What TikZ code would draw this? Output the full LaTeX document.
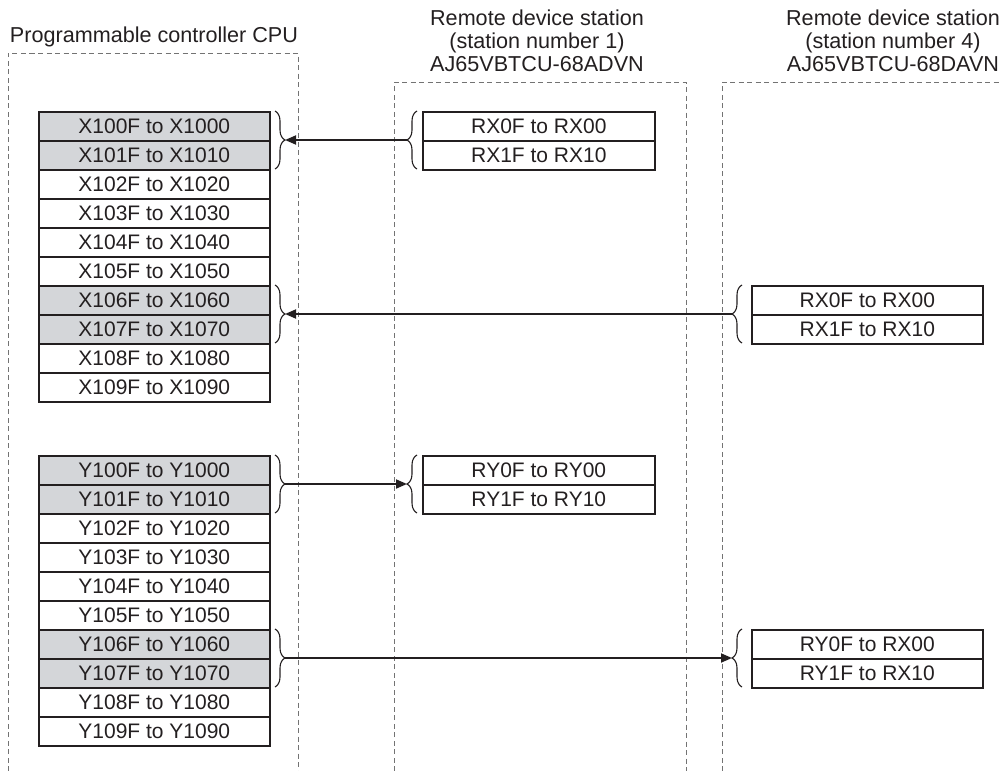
\documentclass[tikz,border=0pt]{standalone}
\usepackage{fontspec}
\setmainfont{Liberation Sans}
\usetikzlibrary{decorations.pathreplacing,arrows.meta}
\definecolor{gray1}{RGB}{212,214,217}
\definecolor{ink}{RGB}{35,31,32}
\begin{document}
\begin{tikzpicture}[x=1pt,y=-1pt,
  frame/.style={draw=black!55,dash pattern=on 5pt off 3.5pt,line width=0.8pt},
  cell/.style={draw=ink,line width=1.6pt,minimum width=231pt,minimum height=29pt,inner sep=0pt,anchor=north west,font=\fontsize{21}{24}\selectfont,text=ink},
  hi/.style={cell,fill=gray1},
  brc/.style={draw=ink,line width=1.1pt,decorate,decoration={brace,amplitude=10pt}},
  arr/.style={draw=ink,line width=1.8pt,-{Triangle[length=11pt,width=9pt]}},
  hdr/.style={font=\fontsize{21.6}{23}\selectfont,align=center,text=ink}]
\useasboundingbox (0,0) rectangle (1002,771);
% frames
\draw[frame] (8,771) -- (8,53) -- (298,53) -- (298,771);
\draw[frame] (394,771) -- (394,82) -- (686,82) -- (686,771);
\draw[frame] (722,771) -- (722,82) -- (1002,82);
% headers
\node[hdr] (hcpu) at (154,37) {Programmable controller CPU};
\node[hdr] (hs1) at (537,41) {Remote device station\\(station number 1)\\AJ65VBTCU-68ADVN};
\node[hdr] (hs4) at (893,41) {Remote device station\\(station number 4)\\AJ65VBTCU-68DAVN};
% CPU X rows
\foreach \i/\s in {0/hi,1/hi,2/cell,3/cell,4/cell,5/cell,6/hi,7/hi,8/cell,9/cell}
  \node[\s] (x\i) at (38,111+29*\i) {X10\i F to X10\i 0};
% CPU Y rows
\foreach \i/\s in {0/hi,1/hi,2/cell,3/cell,4/cell,5/cell,6/hi,7/hi,8/cell,9/cell}
  \node[\s] (y\i) at (38,455+29*\i) {Y10\i F to Y10\i 0};
% station 1
\node[cell,minimum width=232pt] (s1x0) at (422,111) {RX0F to RX00};
\node[cell,minimum width=232pt] (s1x1) at (422,140) {RX1F to RX10};
\node[cell,minimum width=232pt] (s1y0) at (422,455) {RY0F to RY00};
\node[cell,minimum width=232pt] (s1y1) at (422,484) {RY1F to RY10};
% station 4
\node[cell] (s4x0) at (751,285) {RX0F to RX00};
\node[cell] (s4x1) at (751,314) {RX1F to RX10};
\node[cell] (s4y0) at (751,629) {RY0F to RX00};
\node[cell] (s4y1) at (751,658) {RY1F to RX10};
% braces
\draw[brc] (275,111) -- (275,169);
\draw[brc] (275,285) -- (275,343);
\draw[brc] (275,455) -- (275,513);
\draw[brc] (275,629) -- (275,687);
\draw[brc] (417,169) -- (417,111);
\draw[brc] (417,513) -- (417,455);
\draw[brc] (742,343) -- (742,285);
\draw[brc] (742,687) -- (742,629);
% brace tips
\coordinate (cx0) at (285,140);
\coordinate (cx6) at (285,314);
\coordinate (cy0) at (285,484);
\coordinate (cy6) at (285,658);
\coordinate (t1x) at (407,140);
\coordinate (t1y) at (407,484);
\coordinate (t4x) at (732,314);
\coordinate (t4y) at (732,658);
% arrows
\draw[arr] (t1x) -- (cx0);
\draw[arr] (t4x) -- (cx6);
\draw[arr] (cy0) -- (t1y);
\draw[arr] (cy6) -- (t4y);
\end{tikzpicture}
\end{document}
